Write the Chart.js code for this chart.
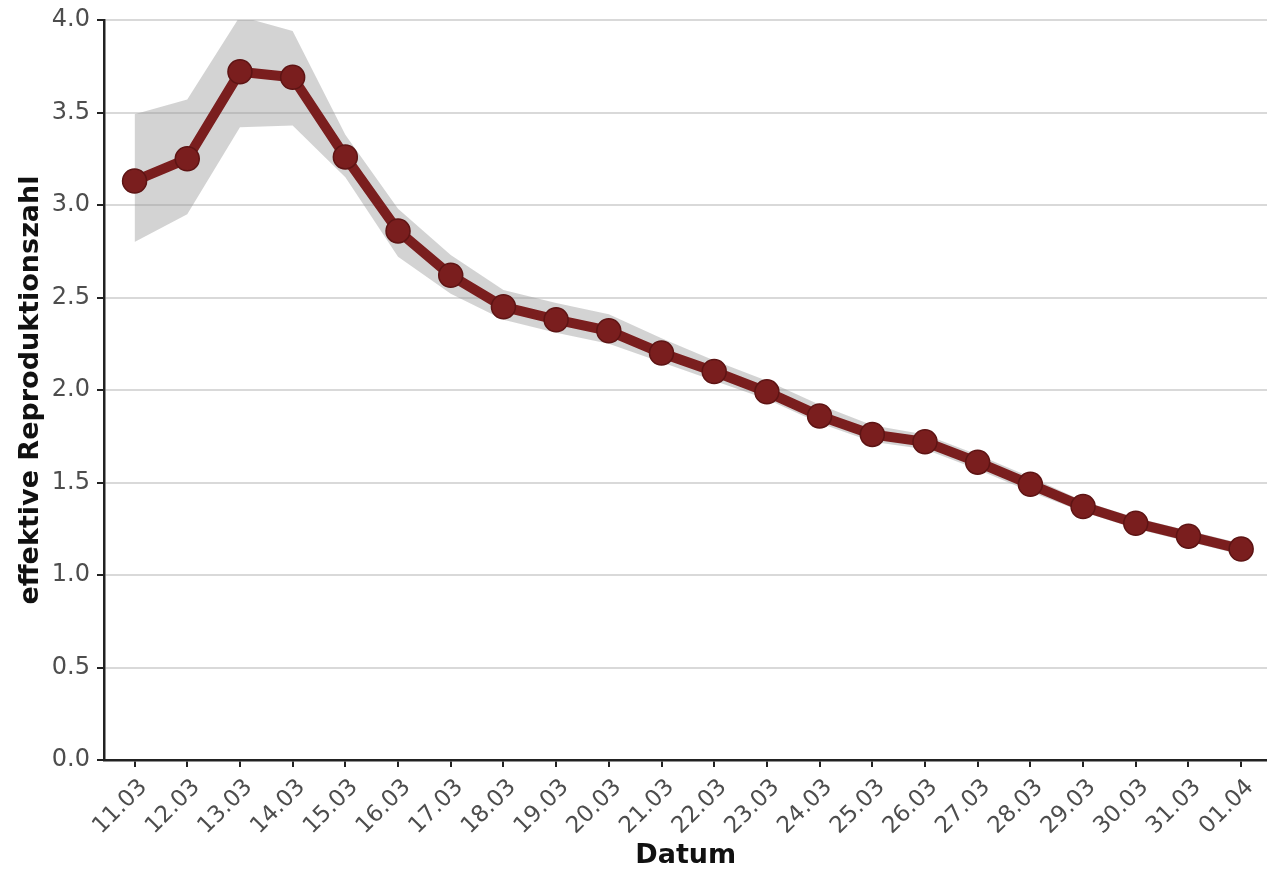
<!DOCTYPE html>
<html>
<head>
<meta charset="utf-8">
<script src="https://cdn.jsdelivr.net/npm/chart.js@4.4.1/dist/chart.umd.min.js"></script>
<style>
html,body{margin:0;padding:0;background:#fff;overflow:hidden;}
#wrap{width:1267px;height:872px;overflow:hidden;position:relative;}
canvas{display:block;}
</style>
</head>
<body>
<div id="wrap"><canvas id="c" width="1281" height="872"></canvas></div>
<script>
const dates = ["11.03","12.03","13.03","14.03","15.03","16.03","17.03","18.03","19.03","20.03","21.03","22.03","23.03","24.03","25.03","26.03","27.03","28.03","29.03","30.03","31.03","01.04"];
const rValues = [3.13,3.25,3.72,3.69,3.26,2.86,2.62,2.45,2.38,2.32,2.20,2.10,1.99,1.86,1.76,1.72,1.61,1.49,1.37,1.28,1.21,1.14];
const upperCI = [3.49,3.57,4.02,3.94,3.38,2.98,2.73,2.54,2.47,2.41,2.28,2.16,2.05,1.92,1.81,1.76,1.65,1.53,1.40,1.31,1.24,1.17];
const lowerCI = [2.80,2.95,3.42,3.43,3.15,2.72,2.52,2.38,2.31,2.25,2.15,2.05,1.95,1.82,1.72,1.68,1.57,1.45,1.34,1.25,1.18,1.11];
const yTicks = [0,0.5,1,1.5,2,2.5,3,3.5,4];

const pts = arr => arr.map((v,i)=>({x:i,y:v}));
const lineColor = '#7a1e1e';
const font = "'DejaVu Sans', 'Liberation Sans', Arial, sans-serif";

new Chart(document.getElementById('c'), {
  type: 'line',
  data: {
    datasets: [
      { label: 'R', data: pts(rValues), borderColor: lineColor, backgroundColor: lineColor, borderWidth: 10, pointRadius: 12, pointBorderWidth: 1.5, pointBorderColor: '#5e1414', pointBackgroundColor: lineColor, fill: false, tension: 0, order: 0 },
      { label: 'lower', data: pts(lowerCI), borderWidth: 0, pointRadius: 0, fill: false, order: 2 },
      { label: 'upper', data: pts(upperCI), borderWidth: 0, pointRadius: 0, backgroundColor: 'rgba(150,150,150,0.42)', fill: '-1', order: 1 }
    ]
  },
  options: {
    responsive: false,
    animation: false,
    layout: { padding: { top: 20, right: 0, left: 0, bottom: 0 } },
    plugins: { legend: { display: false }, tooltip: { enabled: false } },
    scales: {
      x: {
        type: 'linear', min: -0.58, max: 21.5,
        afterBuildTicks: s => { s.ticks = dates.map((_, i) => ({ value: i })); },
        afterFit: s => { s.height = 112; },
        ticks: { autoSkip: false, minRotation: 45, maxRotation: 45, color: '#4d4d4d', font: { family: font, size: 23 }, padding: 7, labelOffset: 9, callback: v => dates[v] },
        grid: { drawOnChartArea: false, color: '#222', lineWidth: 2, tickLength: 7 },
        border: { display: true, color: '#222', width: 2.5 },
        title: { display: true, text: 'Datum', color: '#111', font: { family: font, size: 27, weight: 'bold' }, padding: { top: 0, bottom: 0 } }
      },
      y: {
        min: 0, max: 4,
        afterBuildTicks: s => { s.ticks = yTicks.map(v => ({ value: v })); },
        afterFit: s => { s.width = 104; },
        ticks: { color: '#4d4d4d', font: { family: font, size: 24, lineHeight: 1 }, padding: 7, callback: v => v.toFixed(1) },
        grid: { color: '#d9d9d9', lineWidth: 2, tickLength: 7, tickColor: '#222' },
        border: { display: true, color: '#222', width: 2.5 },
        title: { display: true, text: 'effektive Reproduktionszahl', color: '#111', font: { family: font, size: 27, weight: 'bold' }, padding: { top: 15, bottom: 0 } }
      }
    }
  }
});
</script>
</body>
</html>
